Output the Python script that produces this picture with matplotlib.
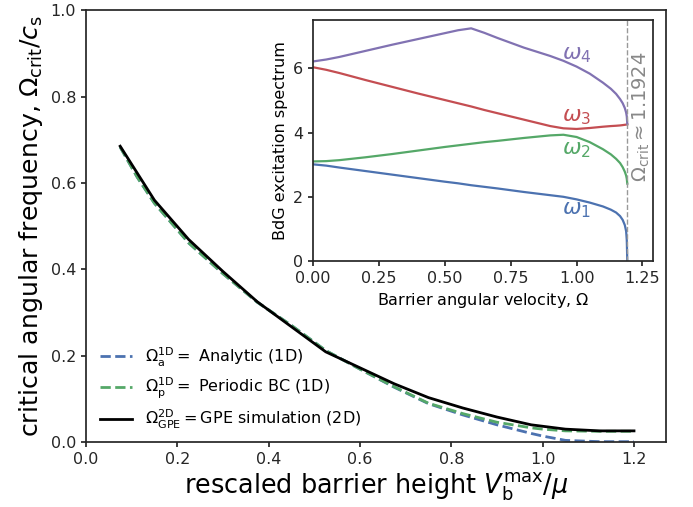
import matplotlib
matplotlib.use("Agg")
import matplotlib.pyplot as plt

# ---- main panel data ----
v_gpe = [0.075, 0.15, 0.225, 0.3, 0.375, 0.45, 0.525, 0.6, 0.675, 0.75,
         0.825, 0.9, 0.975, 1.05, 1.125, 1.2]
om_gpe = [0.685, 0.560, 0.469, 0.395, 0.325, 0.267, 0.209, 0.172, 0.135,
          0.103, 0.079, 0.058, 0.040, 0.030, 0.026, 0.026]

v_1d = [0.075, 0.1125, 0.15, 0.225, 0.3, 0.375, 0.45, 0.525, 0.6, 0.675,
        0.75, 0.825, 0.9, 0.975, 1.0, 1.05, 1.125, 1.2]
om_periodic = [0.683, 0.613, 0.553, 0.461, 0.390, 0.324, 0.270, 0.212,
               0.169, 0.128, 0.090, 0.066, 0.046, 0.033, 0.030, 0.026,
               0.025, 0.025]
om_analytic = [0.683, 0.613, 0.553, 0.461, 0.390, 0.324, 0.270, 0.212,
               0.169, 0.127, 0.089, 0.063, 0.040, 0.020, 0.014, 0.004,
               0.001, 0.001]

# ---- inset data ----
omega = [0.0, 0.05, 0.1, 0.2, 0.3, 0.4, 0.5, 0.55, 0.6, 0.65, 0.7, 0.8, 0.9,
         0.95, 1.0, 1.05, 1.1, 1.13, 1.15, 1.165, 1.175, 1.183, 1.188,
         1.1905, 1.1924]
w1 = [3.01, 2.97, 2.91, 2.80, 2.69, 2.58, 2.47, 2.42, 2.36, 2.31, 2.26,
      2.15, 2.05, 2.00, 1.92, 1.82, 1.70, 1.60, 1.51, 1.40, 1.28, 1.12,
      0.93, 0.65, 0.0]
w2 = [3.10, 3.11, 3.14, 3.23, 3.33, 3.44, 3.55, 3.60, 3.65, 3.70, 3.74,
      3.83, 3.91, 3.93, 3.86, 3.70, 3.48, 3.32, 3.18, 3.05, 2.92, 2.78,
      2.66, 2.56, 2.41]
w3 = [6.03, 5.95, 5.85, 5.63, 5.42, 5.21, 5.01, 4.91, 4.81, 4.70, 4.60,
      4.40, 4.20, 4.13, 4.11, 4.14, 4.18, 4.20, 4.21, 4.22, 4.23, 4.24,
      4.245, 4.25, 4.25]
w4 = [6.21, 6.27, 6.35, 6.54, 6.73, 6.91, 7.09, 7.18, 7.24, 7.10, 6.94,
      6.64, 6.38, 6.23, 6.05, 5.83, 5.55, 5.36, 5.20, 5.04, 4.91, 4.76,
      4.62, 4.50, 4.27]
omega_crit = 1.1924

BLUE, GREEN, RED, PURPLE = "#4C72B0", "#55A868", "#C44E52", "#8172B2"
EDGE = "#262626"

plt.rcParams.update({
    "font.family": "DejaVu Sans",
    "axes.edgecolor": EDGE,
    "axes.linewidth": 1.25,
    "xtick.color": EDGE,
    "ytick.color": EDGE,
    "xtick.labelsize": 11.5,
    "ytick.labelsize": 11.5,
    "xtick.major.width": 1.25,
    "ytick.major.width": 1.25,
    "mathtext.fontset": "dejavusans",
})

fig = plt.figure(figsize=(6.93, 5.07), dpi=100)
ax = fig.add_axes([0.124, 0.128, 0.837, 0.852])

ax.plot(v_1d, om_analytic, "--", color=BLUE, lw=2,
        label=r"$\Omega_{\rm a}^{\rm 1D} =$ Analytic (1D)")
ax.plot(v_1d, om_periodic, "--", color=GREEN, lw=2,
        label=r"$\Omega_{\rm p}^{\rm 1D} =$ Periodic BC (1D)")
ax.plot(v_gpe, om_gpe, "-", color="black", lw=2,
        label=r"$\Omega_{\rm GPE}^{\rm 2D} = $GPE simulation (2D)")

ax.set_xlim(0, 1.27)
ax.set_ylim(0, 1.0)
ax.set_xticks([0.0, 0.2, 0.4, 0.6, 0.8, 1.0, 1.2])
ax.set_yticks([0.0, 0.2, 0.4, 0.6, 0.8, 1.0])
ax.set_xlabel(r"rescaled barrier height $V_{\rm b}^{\rm max}/\mu$",
              fontsize=18.4, labelpad=3)
ax.set_ylabel(r"critical angular frequency, $\Omega_{\rm crit}/c_{\rm s}$",
              fontsize=18.2, labelpad=4)
ax.legend(loc="lower left", frameon=False, fontsize=11.5,
          bbox_to_anchor=(0.0, -0.008), labelspacing=0.45)

# ---- inset ----
ins = fig.add_axes([0.4517, 0.485, 0.4906, 0.4756])
ins.plot(omega, w1, color=BLUE, lw=1.6)
ins.plot(omega, w2, color=GREEN, lw=1.6)
ins.plot(omega, w3, color=RED, lw=1.6)
ins.plot(omega, w4, color=PURPLE, lw=1.6)
ins.axvline(omega_crit, color="#999999", ls="--", lw=1)
ins.text(1.245, 4.5, r"$\Omega_{\rm crit} \approx 1.1924$", rotation=90,
         color="#888888", fontsize=14, ha="center", va="center")
ins.text(0.945, 6.4, r"$\omega_4$", color=PURPLE, fontsize=16, va="center")
ins.text(0.945, 4.48, r"$\omega_3$", color=RED, fontsize=16, va="center")
ins.text(0.945, 3.45, r"$\omega_2$", color=GREEN, fontsize=16, va="center")
ins.text(0.945, 1.58, r"$\omega_1$", color=BLUE, fontsize=16, va="center")
ins.set_xlim(0, 1.29)
ins.set_ylim(0, 7.5)
ins.set_xticks([0.0, 0.25, 0.5, 0.75, 1.0, 1.25])
ins.set_yticks([0, 2, 4, 6])
ins.tick_params(labelsize=11.5)
ins.set_xlabel(r"Barrier angular velocity, $\Omega$", fontsize=11.5)
ins.set_ylabel("BdG excitation spectrum", fontsize=11.5)

fig.savefig("out.png", dpi=100)
